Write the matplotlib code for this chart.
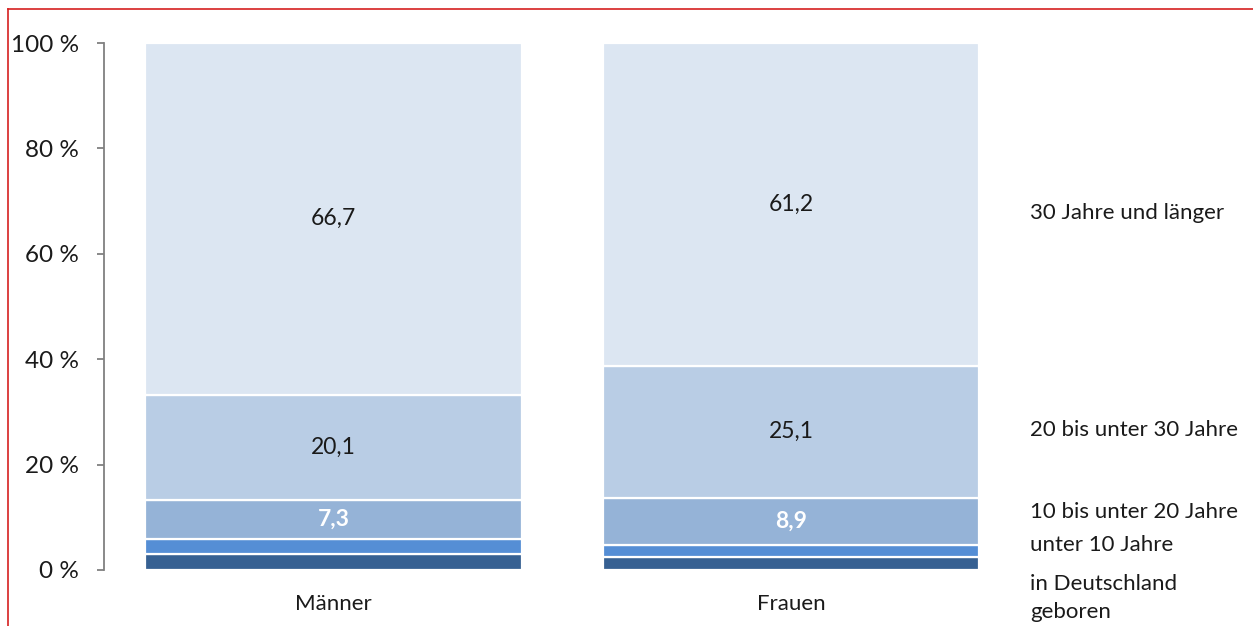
import matplotlib.pyplot as plt
import numpy as np

# data (percent)
groups = ["Männer", "Frauen"]
series = ["in Deutschland\ngeboren", "unter 10 Jahre", "10 bis unter 20 Jahre",
          "20 bis unter 30 Jahre", "30 Jahre und länger"]
geboren = [3.1, 2.4]
unter10 = [2.8, 2.4]
j10_20 = [7.3, 8.9]
j20_30 = [20.1, 25.1]
j30plus = [66.7, 61.2]
yticks = [0, 20, 40, 60, 80, 100]

colors = ["#366092", "#558ed5", "#95b3d7", "#b9cde5", "#dce6f2"]
label_colors = [None, None, "white", "#1a1a1a", "#1a1a1a"]
label_bold = [False, False, True, False, False]
legend_y = [598, 545, 512, 430, 213]  # pixel rows of the right-hand labels

plt.rcParams['font.family'] = ['Lato', 'DejaVu Sans']

W, H = 1253, 626
fig = plt.figure(figsize=(W / 100, H / 100), dpi=100)
ax = fig.add_axes([104 / W, 56 / H, (1000 - 104) / W, 527 / H])

x = np.arange(len(groups))
width = 0.824
values = [geboren, unter10, j10_20, j20_30, j30plus]
bottom = np.zeros(len(groups))
for i, vals in enumerate(values):
    ax.bar(x, vals, width, bottom=bottom, color=colors[i],
           edgecolor="white", linewidth=1.6)
    if label_colors[i]:
        for xi, b, v in zip(x, bottom, vals):
            ax.text(xi, b + v / 2, f"{v:.1f}".replace(".", ","),
                    ha="center", va="center", fontsize=16.5,
                    color=label_colors[i],
                    fontweight="bold" if label_bold[i] else "normal")
    bottom += np.array(vals)

ax.set_xlim(-0.502, 1.457)
ax.set_ylim(0, 100)
ax.set_yticks(yticks)
ax.set_yticklabels([f"{t} %" for t in yticks], fontsize=17.5, color="#1a1a1a")
ax.set_xticks(x)
ax.set_xticklabels(groups, fontsize=16, color="#1a1a1a")
ax.tick_params(axis="x", length=0, pad=17)
ax.tick_params(axis="y", length=5, width=1.3, color="#808080", pad=13)
for s in ["top", "right", "bottom"]:
    ax.spines[s].set_visible(False)
ax.spines["left"].set_color("#808080")
ax.spines["left"].set_linewidth(1.3)

for name, py in zip(series, legend_y):
    fig.text(1030 / W, 1 - py / H, name, ha="left", va="center",
             fontsize=16, color="#1a1a1a", linespacing=1.5)

# red frame on the left and top edges
fig.add_artist(plt.Line2D([8 / W, 8 / W], [0, 1 - 9 / H], color="#d62020",
                          linewidth=1.2, transform=fig.transFigure))
fig.add_artist(plt.Line2D([8 / W, 1], [1 - 9 / H, 1 - 9 / H], color="#d62020",
                          linewidth=1.2, transform=fig.transFigure))

fig.savefig("out.png", dpi=100)
